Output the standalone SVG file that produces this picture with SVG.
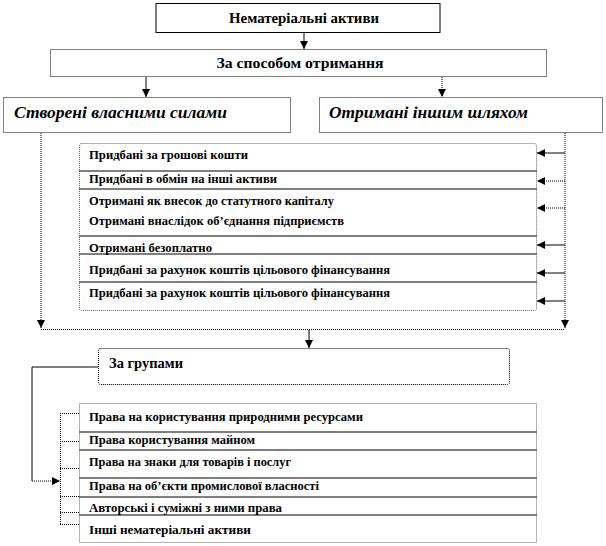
<svg xmlns="http://www.w3.org/2000/svg" width="606" height="546" viewBox="0 0 606 546">
<style>
.t{font-family:"Liberation Serif","Times New Roman",serif;font-weight:bold;fill:#000}
.h{font-size:14px}
.hi{font-size:16px;font-style:italic}
.s{font-size:12px}
.solid{fill:#fff;stroke:#000;stroke-width:1}
.dot{fill:#fff;stroke:#000;stroke-width:1;stroke-dasharray:1,1}
.lst{fill:#fff;stroke:#666;stroke-width:1;stroke-dasharray:1,1}
.sep{stroke:#555;stroke-width:1.5}
.c{fill:none;stroke:#000;stroke-width:1}
.cd{fill:none;stroke:#000;stroke-width:1;stroke-dasharray:1,1}
</style>
<defs>
<marker id="ah" markerUnits="userSpaceOnUse" markerWidth="9" markerHeight="8" refX="8" refY="4" orient="auto">
<path d="M0,0 L8,4 L0,8 Z" fill="#000"/>
</marker>
</defs>
<g id="n-top">
<rect class="solid" x="156" y="3.5" width="284" height="29"/>
<text class="t h" x="304" y="23" text-anchor="middle" textLength="150" lengthAdjust="spacingAndGlyphs">Нематеріальні  активи</text>
</g>
<g id="n-method">
<rect class="dot" x="50.5" y="49.5" width="496" height="27"/>
<text class="t h" x="300" y="68" text-anchor="middle" textLength="167" lengthAdjust="spacingAndGlyphs">За способом отримання</text>
</g>
<g id="n-own">
<rect class="dot" x="3.5" y="97.5" width="287" height="35"/>
<text class="t hi" x="14" y="118" textLength="213" lengthAdjust="spacingAndGlyphs">Створені власними силами</text>
</g>
<g id="n-other">
<rect class="dot" x="319.5" y="97.5" width="283" height="35"/>
<text class="t hi" x="329" y="118" textLength="199" lengthAdjust="spacingAndGlyphs">Отримані іншим шляхом</text>
</g>
<g id="n-list1">
<rect class="lst" x="79.5" y="143.5" width="457" height="167" rx="2"/>
<line class="sep" x1="79" y1="171" x2="537" y2="171"/>
<line class="sep" x1="79" y1="189" x2="537" y2="189"/>
<line class="sep" x1="79" y1="236" x2="537" y2="236"/>
<line class="sep" x1="79" y1="254" x2="537" y2="254"/>
<line class="sep" x1="79" y1="282" x2="537" y2="282"/>
<text class="t s" x="89" y="159" textLength="159" lengthAdjust="spacingAndGlyphs">Придбані за грошові кошти</text>
<text class="t s" x="89" y="183" textLength="188" lengthAdjust="spacingAndGlyphs">Придбані в обмін на інші активи</text>
<text class="t s" x="89" y="205" textLength="245" lengthAdjust="spacingAndGlyphs">Отримані як внесок до статутного  капіталу</text>
<text class="t s" x="89" y="225" textLength="255" lengthAdjust="spacingAndGlyphs">Отримані внаслідок  об’єднання підприємств</text>
<text class="t s" x="89" y="252" textLength="123" lengthAdjust="spacingAndGlyphs">Отримані безоплатно</text>
<text class="t s" x="89" y="274" textLength="301" lengthAdjust="spacingAndGlyphs">Придбані за рахунок коштів  цільового фінансування</text>
<text class="t s" x="89" y="297" textLength="301" lengthAdjust="spacingAndGlyphs">Придбані за рахунок коштів  цільового фінансування</text>
</g>
<g id="n-groups">
<rect class="dot" x="98.5" y="348.5" width="411" height="36" rx="2"/>
<text class="t h" x="109" y="368" textLength="74" lengthAdjust="spacingAndGlyphs">За групами</text>
</g>
<g id="n-list2">
<rect class="lst" x="79.5" y="403.5" width="457" height="139"/>
<line class="sep" x1="79" y1="432" x2="537" y2="432"/>
<line class="sep" x1="79" y1="450" x2="537" y2="450"/>
<line class="sep" x1="79" y1="478" x2="537" y2="478"/>
<line class="sep" x1="79" y1="497" x2="537" y2="497"/>
<line class="sep" x1="79" y1="515" x2="537" y2="515"/>
<text class="t s" x="89" y="421" textLength="274" lengthAdjust="spacingAndGlyphs">Права на користування природними ресурсами</text>
<text class="t s" x="89" y="444" textLength="166" lengthAdjust="spacingAndGlyphs">Права користування майном</text>
<text class="t s" x="89" y="466" textLength="202" lengthAdjust="spacingAndGlyphs">Права на знаки для товарів і послуг</text>
<text class="t s" x="89" y="490" textLength="230" lengthAdjust="spacingAndGlyphs">Права на об’єкти промислової власності</text>
<text class="t s" x="89" y="512" textLength="193" lengthAdjust="spacingAndGlyphs">Авторські і суміжні з ними права</text>
<text class="t s" x="89" y="534" textLength="162" lengthAdjust="spacingAndGlyphs">Інші нематеріальні активи</text>
</g>
<g id="connectors">
<line class="c" x1="304" y1="33" x2="304" y2="49" marker-end="url(#ah)"/>
<line class="c" x1="146" y1="77" x2="146" y2="97" marker-end="url(#ah)"/>
<line class="cd" x1="442" y1="77" x2="442" y2="97" marker-end="url(#ah)"/>
<line class="cd" x1="41" y1="133" x2="41" y2="328" marker-end="url(#ah)"/>
<line class="cd" x1="565" y1="133" x2="565" y2="328" marker-end="url(#ah)"/>
<line class="cd" x1="41" y1="329.5" x2="565" y2="329.5"/>
<line class="c" x1="309" y1="330" x2="309" y2="348" marker-end="url(#ah)"/>
<line class="c" x1="565" y1="153" x2="537" y2="153" marker-end="url(#ah)"/>
<line class="cd" x1="565" y1="181" x2="537" y2="181" marker-end="url(#ah)"/>
<line class="cd" x1="565" y1="208" x2="537" y2="208" marker-end="url(#ah)"/>
<line class="c" x1="565" y1="245" x2="537" y2="245" marker-end="url(#ah)"/>
<line class="c" x1="565" y1="273" x2="537" y2="273" marker-end="url(#ah)"/>
<line class="c" x1="565" y1="301" x2="537" y2="301" marker-end="url(#ah)"/>
<polyline class="c" points="98,367 32,367 32,481"/>
<line class="cd" x1="32" y1="481" x2="60" y2="481" marker-end="url(#ah)"/>
<line class="cd" x1="60.5" y1="413" x2="60.5" y2="524"/>
<line class="cd" x1="60" y1="413.5" x2="79" y2="413.5"/>
<line class="cd" x1="60" y1="441.5" x2="79" y2="441.5"/>
<line class="cd" x1="60" y1="468.5" x2="79" y2="468.5"/>
<line class="cd" x1="60" y1="496.5" x2="79" y2="496.5"/>
<line class="cd" x1="60" y1="512.5" x2="79" y2="512.5"/>
<line class="cd" x1="60" y1="524.5" x2="79" y2="524.5"/>
</g>
</svg>
